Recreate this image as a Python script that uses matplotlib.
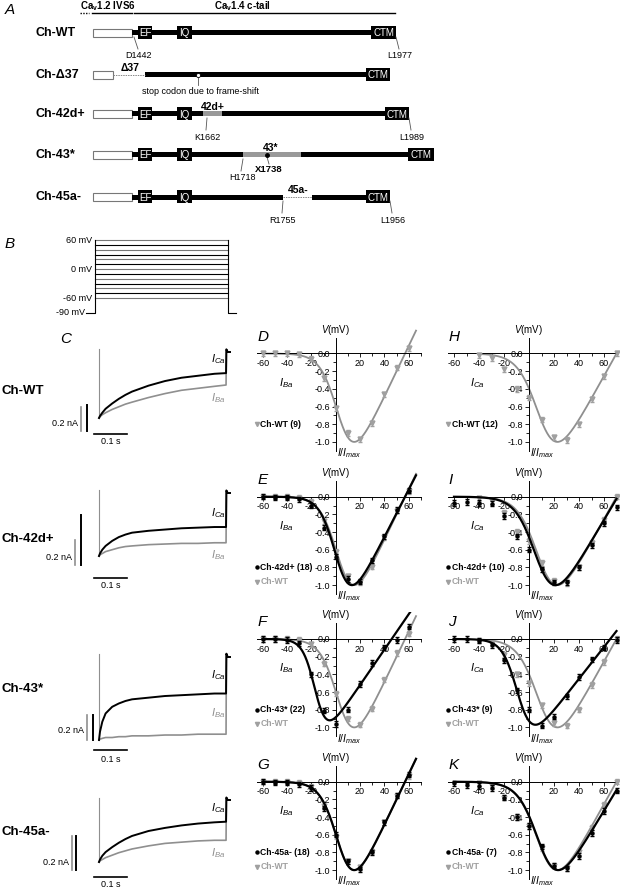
import numpy as np
import matplotlib.pyplot as plt
from matplotlib.patches import Rectangle

plt.rcParams['font.family'] = ['Liberation Sans', 'DejaVu Sans']
plt.rcParams['axes.unicode_minus'] = False
plt.rcParams['mathtext.fontset'] = 'custom'
plt.rcParams['mathtext.rm'] = 'Liberation Sans'
plt.rcParams['mathtext.it'] = 'Liberation Sans:italic'
plt.rcParams['mathtext.bf'] = 'Liberation Sans:bold'

W, H = 620, 888
GRAY = '#8f8f8f'

# ---------------- panel A: constructs (schematic units) ----------------
constructs = ['Ch-WT', 'Ch-Δ37', 'Ch-42d+', 'Ch-43*', 'Ch-45a-']
segments = {
    'Ch-WT':   [('ivs6', 93, 132), ('tail', 132, 372), ('EF', 138, 152), ('IQ', 177, 192), ('CTM', 371, 396)],
    'Ch-Δ37':  [('ivs6', 93, 113), ('gap', 113, 145), ('tail', 145, 367), ('CTM', 366, 390)],
    'Ch-42d+': [('ivs6', 93, 132), ('tail', 132, 386), ('alt', 203, 222), ('EF', 138, 152), ('IQ', 177, 192), ('CTM', 385, 409)],
    'Ch-43*':  [('ivs6', 93, 132), ('tail', 132, 409), ('alt', 243, 301), ('EF', 138, 152), ('IQ', 177, 192), ('CTM', 408, 434)],
    'Ch-45a-': [('ivs6', 93, 132), ('tail', 132, 283), ('gap', 283, 312), ('tail', 312, 367), ('EF', 138, 152), ('IQ', 177, 192), ('CTM', 366, 390)],
}
# (construct, residue label, label x, leader top x, bold)
residues = [
    ('Ch-WT', 'D1442', 139, 134, False), ('Ch-WT', 'L1977', 400, 396, False),
    ('Ch-42d+', 'K1662', 207, 207, False), ('Ch-42d+', 'L1989', 412, 409, False),
    ('Ch-43*', 'H1718', 242, 243, False), ('Ch-43*', 'X1738', 269, 267, True),
    ('Ch-45a-', 'R1755', 283, 283, False), ('Ch-45a-', 'L1956', 393, 390, False),
]
exon_tags = [('Ch-Δ37', 'Δ37', 130), ('Ch-42d+', '42d+', 213), ('Ch-43*', '43*', 271), ('Ch-45a-', '45a-', 298)]

# ---------------- panel B: step protocol ----------------
step_mv = [-60, -50, -40, -30, -20, -10, 0, 10, 20, 30, 40, 50, 60]
hold_mv = -90
step_len_s = 0.4

# ---------------- panel C: current traces (normalised to peak) ----------------
trace_t = [0, 0.003, 0.01, 0.02, 0.04, 0.06, 0.08, 0.1, 0.15, 0.2, 0.25, 0.3, 0.35, 0.385]
ca_traces = [
    [-1, -0.97, -0.92, -0.86, -0.78, -0.71, -0.65, -0.6, -0.51, -0.44, -0.39, -0.36, -0.33, -0.32],
    [-1, -0.96, -0.9, -0.84, -0.76, -0.7, -0.66, -0.63, -0.6, -0.58, -0.56, -0.55, -0.54, -0.54],
    [-1, -0.9, -0.78, -0.68, -0.6, -0.56, -0.53, -0.51, -0.49, -0.47, -0.46, -0.45, -0.44, -0.44],
    [-1, -0.96, -0.9, -0.84, -0.76, -0.69, -0.63, -0.58, -0.5, -0.45, -0.41, -0.38, -0.36, -0.35],
]
ba_traces = [
    [-1, -0.98, -0.95, -0.92, -0.87, -0.83, -0.79, -0.76, -0.69, -0.63, -0.58, -0.55, -0.52, -0.5],
    [-1, -0.98, -0.96, -0.93, -0.9, -0.87, -0.85, -0.84, -0.82, -0.81, -0.8, -0.8, -0.79, -0.79],
    [-1, -0.99, -0.98, -0.97, -0.97, -0.96, -0.96, -0.95, -0.95, -0.94, -0.94, -0.93, -0.93, -0.93],
    [-1, -0.98, -0.96, -0.93, -0.89, -0.85, -0.82, -0.79, -0.74, -0.7, -0.68, -0.66, -0.65, -0.65],
]
ca_peak_na = [0.51, 0.25, 0.66, 0.36]
ba_peak_na = [0.55, 0.5, 0.66, 0.36]

# ---------------- panels D-K: normalised I-V ----------------
v_ba = [-60, -50, -40, -30, -20, -10, 0, 10, 20, 30, 40, 50, 60]
v_ca = [-60, -50, -40, -30, -20, -10, 0, 10, 20, 30, 40, 50, 60, 70]
v_wt_ca = [-40, -30, -20, -10, 0, 10, 20, 30, 40, 50, 60, 70]

wt_ba = [0, 0, 0, -0.01, -0.06, -0.28, -0.62, -0.9, -0.97, -0.79, -0.46, -0.16, 0.06]
wt_ca = [-0.02, -0.05, -0.18, -0.4, -0.5, -0.75, -0.95, -0.98, -0.8, -0.52, -0.26, 0.0]
mut_ba = {
    'Ch-42d+': [0, -0.01, -0.01, -0.03, -0.1, -0.35, -0.68, -0.93, -0.96, -0.72, -0.45, -0.15, 0.07],
    'Ch-43*':  [0, 0, -0.01, -0.05, -0.4, -0.81, -0.96, -0.8, -0.51, -0.27, -0.1, -0.01, 0.14],
    'Ch-45a-': [0, -0.01, -0.01, -0.03, -0.07, -0.3, -0.6, -0.9, -0.99, -0.8, -0.46, -0.16, 0.08],
}
mut_ca = {
    'Ch-42d+': [-0.07, -0.06, -0.07, -0.08, -0.22, -0.45, -0.6, -0.82, -0.97, -0.97, -0.8, -0.55, -0.3, -0.12],
    'Ch-43*':  [0, 0, -0.02, -0.07, -0.24, -0.58, -0.8, -0.98, -0.88, -0.65, -0.43, -0.23, -0.1, -0.01],
    'Ch-45a-': [-0.02, -0.04, -0.05, -0.07, -0.18, -0.4, -0.5, -0.73, -0.95, -0.98, -0.84, -0.58, -0.33, -0.1],
}
n_ba = {'Ch-WT': 9, 'Ch-42d+': 18, 'Ch-43*': 22, 'Ch-45a-': 18}
n_ca = {'Ch-WT': 12, 'Ch-42d+': 10, 'Ch-43*': 9, 'Ch-45a-': 7}
# Boltzmann-GHK fit parameters: (V1/2, k, Vrev, peak, v_end)
fit_ba = {'Ch-WT': (4, 7, 57, 1.0, 66), 'Ch-42d+': (2, 6.5, 57, 1.0, 66),
          'Ch-43*': (-16, 5, 46, 0.92, 66), 'Ch-45a-': (4, 7, 57, 1.0, 66)}
fit_ca = {'Ch-WT': (10, 8, 70, 1.0, 70), 'Ch-42d+': (8, 8, 71, 1.0, 70),
          'Ch-43*': (-8, 6, 65, 0.97, 70), 'Ch-45a-': (10, 8, 74, 1.0, 70)}
err = 0.03


def fit_curve(v, vh, k, vrev, peak):
    g = (v - vrev) / (1 + np.exp((vh - v) / k))
    return g / abs(g.min()) * peak


fig = plt.figure(figsize=(W / 100, H / 100), dpi=100)
canvas = fig.add_axes([0, 0, 1, 1])
canvas.set_xlim(0, W)
canvas.set_ylim(H, 0)
canvas.axis('off')


def px_axes(x0, y0, x1, y1):
    return fig.add_axes([x0 / W, 1 - y1 / H, (x1 - x0) / W, (y1 - y0) / H])


# ---- panel A
canvas.text(5, 14, 'A', fontsize=11, style='italic')
canvas.text(80, 6.5, r'Ca$_\mathbf{v}$1.2 IVS6', fontsize=7, weight='bold', va='center')
canvas.text(243, 6.5, r'Ca$_\mathbf{v}$1.4 c-tail', fontsize=7, weight='bold', va='center', ha='center')
canvas.plot([80, 89], [13.5, 13.5], color='black', lw=1, ls=(0, (1, 1)))
canvas.plot([92, 132], [13.5, 13.5], color='black', lw=1)
canvas.plot([134, 395], [13.5, 13.5], color='black', lw=1)

row_y = dict(zip(constructs, [33, 75, 114, 155, 197]))
for name in constructs:
    y = row_y[name]
    canvas.text(36, y, name, fontsize=9, weight='bold', va='center')
    for kind, x0, x1 in segments[name]:
        if kind == 'ivs6':
            canvas.add_patch(Rectangle((x0, y - 4), x1 - x0, 8, fc='white', ec='#777777', lw=0.8))
        elif kind == 'tail':
            canvas.add_patch(Rectangle((x0, y - 2.5), x1 - x0, 5, fc='black', ec='none'))
        elif kind == 'alt':
            canvas.add_patch(Rectangle((x0, y - 2.5), x1 - x0, 5, fc='#999999', ec='none'))
        elif kind == 'gap':
            canvas.plot([x0, x1], [y, y], color='#888888', lw=0.7, ls=(0, (1.5, 1)))
        else:
            canvas.add_patch(Rectangle((x0, y - 6.5), x1 - x0, 13, fc='black', ec='none'))
            canvas.text((x0 + x1) / 2, y + 0.5, kind, color='white', fontsize=7, ha='center', va='center')

for name, lab, xt, xl, bold in residues:
    y = row_y[name]
    top = y + (2 if bold else 4)
    canvas.plot([xl, xt - (1 if not bold else 0)], [top, y + (9 if bold else 16)], color='#555555', lw=0.6)
    canvas.text(xt, y + (15 if bold else 23), lab, fontsize=6.5 if not bold else 6.8,
                weight='bold' if bold else 'normal', ha='center', va='center')
for name, lab, xt in exon_tags:
    canvas.text(xt, row_y[name] - 7, lab, fontsize=7.5, weight='bold', ha='center', va='center')
canvas.plot([198, 198], [75, 85], color='#555555', lw=0.6)
canvas.plot(198, 75, 'o', ms=3, mfc='white', mec='black', mew=0.6)
canvas.plot(267, 155, 'o', ms=2.5, color='black')
canvas.text(200, 91, 'stop codon due to frame-shift', fontsize=6.5, ha='center', va='center')

# ---- panel B
canvas.text(5, 248, 'B', fontsize=11, style='italic')
axb = px_axes(80, 235, 240, 318)
axb.set_xlim(-0.045, 0.436)
axb.set_ylim(-101, 70.4)
axb.axis('off')
for i, v in enumerate(step_mv):
    axb.plot([0, step_len_s], [v, v], color='black' if i % 2 else '#777777', lw=0.8)
axb.plot([-0.027, 0, 0], [hold_mv, hold_mv, max(step_mv)], color='black', lw=0.8)
axb.plot([step_len_s, step_len_s, step_len_s + 0.024], [max(step_mv), hold_mv, hold_mv], color='black', lw=0.8)
for v in [60, 0, -60]:
    axb.text(-0.009, v, f'{v} mV', fontsize=6.5, ha='right', va='center')
axb.text(-0.029, hold_mv, f'{hold_mv} mV', fontsize=6.5, ha='right', va='center')

# ---- panel C
canvas.text(60, 343, 'C', fontsize=11, style='italic')
row_zero = [352, 493, 657, 800]
row_peak = [418, 556, 740, 862]
bar_x = [(81, 87), (75, 81), (87, 93), (72, 76)]
bar_bottom = [431, 565, 740, 870]
tbar_y = [434, 578, 750, 877]
label_y = [391, 539, 689, 832]
ba_label_dy = [-0.2, -0.2, 0.25, -0.2]
for r in range(4):
    z, p = row_zero[r], row_peak[r]
    sc = p - z
    ax = px_axes(39.6, z - 0.3 * sc, 240.9, z + 1.6 * sc)
    ax.set_xlim(-0.18, 0.43)
    ax.set_ylim(-1.6, 0.3)
    ax.axis('off')
    t = trace_t + [trace_t[-1] + 0.001, trace_t[-1] + 0.005, trace_t[-1] + 0.012]
    ax.plot([0, 0], [0.04, -1], color=GRAY, lw=0.8)
    ax.plot(t, ba_traces[r] + [0.04, 0.0, 0.0], color=GRAY, lw=1.2)
    ax.plot(t, ca_traces[r] + [0.04, 0.0, 0.0], color='black', lw=1.4)
    tz = lambda px: (px - 99) / 330
    yz = lambda py: -(py - z) / sc
    gx, bx = bar_x[r]
    ax.plot([tz(gx)] * 2, [yz(bar_bottom[r]), yz(bar_bottom[r]) + 0.2 / ba_peak_na[r]], color=GRAY, lw=1.2)
    ax.plot([tz(bx)] * 2, [yz(bar_bottom[r]), yz(bar_bottom[r]) + 0.2 / ca_peak_na[r]], color='black', lw=1.4)
    ax.text(tz(gx) - 0.008, yz(bar_bottom[r]) + 0.12, '0.2 nA', fontsize=6.5, ha='right', va='center')
    ax.plot([tz(94), tz(94) + 0.1], [yz(tbar_y[r])] * 2, color='black', lw=1.2)
    ax.text(tz(94) + 0.05, yz(tbar_y[r]) - 0.12, '0.1 s', fontsize=6.5, ha='center', va='center')
    ax.text(0.34, ca_traces[r][-1] + 0.22, r'$I_{Ca}$', fontsize=8, ha='left', va='center')
    ax.text(0.34, ba_traces[r][-1] + ba_label_dy[r], r'$I_{Ba}$', fontsize=8, ha='left', va='center', color=GRAY)
    canvas.text(2, label_y[r], ['Ch-WT', 'Ch-42d+', 'Ch-43*', 'Ch-45a-'][r], fontsize=9.5, weight='bold', va='center')

# ---- panels D-K
iv_zero = [353.5, 496.7, 639, 781.7]
mutants = [None, 'Ch-42d+', 'Ch-43*', 'Ch-45a-']
letters = [('D', 'H'), ('E', 'I'), ('F', 'J'), ('G', 'K')]
cols = [dict(x0=335.7, s=1.217, ion='Ba'), dict(x0=529, s=1.25, ion='Ca')]
for r in range(4):
    y0 = iv_zero[r]
    for c, col in enumerate(cols):
        xa = col['x0'] - 70 * col['s']
        xb = col['x0'] + 72 * col['s']
        ax = px_axes(xa, y0 - 0.3 * 88.4, xb, y0 + 1.15 * 88.4)
        ax.set_xlim(-70, 72)
        ax.set_ylim(-1.15, 0.3)
        ax.patch.set_visible(False)
        for s in ['top', 'right']:
            ax.spines[s].set_visible(False)
        ax.spines['left'].set_position(('data', 0))
        ax.spines['bottom'].set_position(('data', 0))
        ax.spines['left'].set_bounds(-1.1, 0.18)
        ax.spines['bottom'].set_bounds(-65, 70)
        for s in ['left', 'bottom']:
            ax.spines[s].set_linewidth(0.7)
        ax.set_xticks([-60, -40, -20, 20, 40, 60])
        ax.set_xticks([-50, -30, -10, 0, 10, 30, 50, 70], minor=True)
        ax.set_yticks([0, -0.2, -0.4, -0.6, -0.8, -1.0])
        ax.set_yticks([-0.1, -0.3, -0.5, -0.7, -0.9], minor=True)
        ax.set_yticklabels([f'{v:.1f}' for v in [0, -0.2, -0.4, -0.6, -0.8, -1.0]])
        ax.tick_params(which='both', direction='out', width=0.6, labelsize=6.5, pad=1)
        ax.tick_params(which='major', length=3)
        ax.tick_params(which='minor', length=2)

        if col['ion'] == 'Ba':
            wv, wi, fits, vm, mdat, nn = v_ba, wt_ba, fit_ba, v_ba, mut_ba, n_ba
        else:
            wv, wi, fits, vm, mdat, nn = v_wt_ca, wt_ca, fit_ca, v_ca, mut_ca, n_ca
        vh, k, vr, pk, vend = fits['Ch-WT']
        vv = np.linspace(wv[0], vend, 300)
        ax.plot(vv, fit_curve(vv, vh, k, vr, pk), color=GRAY, lw=1.3, zorder=2)
        ax.errorbar(wv, wi, yerr=err, fmt='v', ms=3.5, color='#a0a0a0', ecolor='#a0a0a0',
                    elinewidth=0.6, capsize=1.5, zorder=3)
        m = mutants[r]
        ion = col['ion']
        if m is None:
            ax.plot(-65, -0.8, 'v', ms=3, color='#a0a0a0', clip_on=False)
            ax.text(-62, -0.8, f'Ch-WT ({nn["Ch-WT"]})', fontsize=6.2, weight='bold', va='center')
        else:
            vh, k, vr, pk, vend = fits[m]
            vv = np.linspace(vm[0], vend, 300)
            ax.plot(vv, fit_curve(vv, vh, k, vr, pk), color='black', lw=1.6, zorder=4)
            ax.errorbar(vm, mdat[m], yerr=err, fmt='o', ms=2.2, color='black',
                        elinewidth=0.6, capsize=1.5, zorder=5)
            ax.plot(-65, -0.8, 'o', ms=2.2, color='black', clip_on=False)
            ax.text(-62, -0.8, f'{m} ({nn[m]})', fontsize=6.2, weight='bold', va='center')
            ax.plot(-65, -0.96, 'v', ms=3, color='#a0a0a0', clip_on=False)
            ax.text(-62, -0.96, 'Ch-WT', fontsize=6.2, weight='bold', va='center', color='#a0a0a0')
        ax.text(-47, -0.33, rf'$I_{{{ion}}}$', fontsize=8, va='center')
        ax.text(0, 0.19, r'$V$(mV)', fontsize=7, ha='center', va='bottom')
        ax.text(1, -1.13, r'$I/I_{max}$', fontsize=7.5, ha='left', va='center')
        canvas.text(xa + 7, y0 - 17, letters[r][c], fontsize=11, style='italic', va='center')

fig.savefig('out.png', dpi=100)
